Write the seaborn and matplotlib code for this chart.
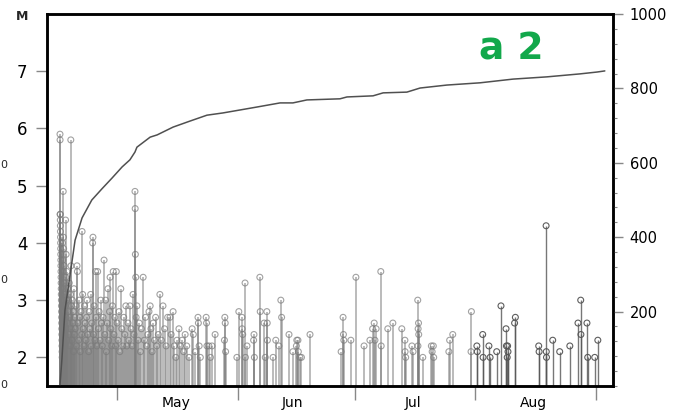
import numpy as np
import pandas as pd
import matplotlib
matplotlib.use("Agg")
import matplotlib.pyplot as plt
import matplotlib.dates as mdates
from matplotlib.ticker import MultipleLocator, FixedLocator, FixedFormatter, NullFormatter
import seaborn as sns

START = pd.Timestamp("2016-04-01")

# aftershocks: days after Apr 1 and magnitude
apr_day = [15.22, 15.24, 15.26, 15.28, 15.30, 15.32, 15.34, 15.36, 15.38, 15.40,
           15.42, 15.44, 15.46, 15.48, 15.50, 15.52, 15.54, 15.56, 15.58, 15.60,
           15.62, 15.64, 15.66, 15.68, 15.70, 15.72, 15.74, 15.76, 15.78,
           15.85, 15.9, 15.95, 16.0, 16.05, 16.1, 16.15, 16.2, 16.25, 16.3, 16.35,
           16.4, 16.45, 16.5, 16.55, 16.6, 16.65, 16.7, 16.75, 16.8, 16.85, 16.9,
           16.95, 17.0,
           17.1, 17.2, 17.3, 17.4, 17.5, 17.6, 17.7, 17.8, 17.9, 18.0, 18.05, 18.1,
           18.2, 18.3, 18.4, 18.5, 18.6, 18.7, 18.8, 18.9, 19.0,
           19.15, 19.3, 19.45, 19.6, 19.7, 19.8, 20.0, 20.15, 20.3, 20.45, 20.6,
           20.8, 20.9, 21.05, 21.2, 21.4, 21.55, 21.7, 21.9, 22.05, 22.2, 22.4,
           22.6, 22.75, 22.9, 23.1, 23.25,
           23.4, 23.6, 23.7, 23.85, 24.0, 24.2, 24.35, 24.5, 24.7, 24.9, 25.1,
           25.3, 25.5, 25.7, 25.9, 26.1, 26.3, 26.55, 26.75, 26.95, 27.15, 27.35,
           27.55, 27.75, 27.95, 28.1, 28.3, 28.5, 28.7, 28.9, 29.1, 29.3, 29.5,
           29.7, 29.9]
apr_mag = [5.9, 5.8, 4.5, 4.5, 4.4, 4.3, 4.2, 4.1, 4.0, 3.9,
           3.8, 3.7, 3.6, 3.5, 3.4, 3.3, 3.2, 3.1, 3.0, 2.9,
           2.8, 2.7, 2.6, 2.5, 2.4, 2.3, 2.2, 2.1, 2.0,
           4.0, 3.7, 3.5, 3.2, 4.9, 4.1, 3.9, 3.0, 2.8, 3.6, 2.6,
           3.3, 2.4, 3.1, 2.2, 2.9, 4.4, 3.4, 2.7, 3.8, 2.5, 3.0,
           2.3, 3.5,
           2.6, 3.2, 2.8, 3.0, 2.4, 3.3, 2.7, 2.2, 3.1, 5.8, 3.6, 2.5,
           2.9, 2.3, 3.0, 2.6, 2.8, 2.1, 3.2, 2.4, 2.7,
           2.5, 2.9, 2.2, 3.6, 3.5, 2.6, 2.3, 3.0, 2.7, 2.1, 2.8,
           2.4, 4.2, 3.1, 2.5, 2.2, 2.9, 2.6, 2.3, 2.7, 3.0, 2.4,
           2.1, 2.8, 2.5, 3.1, 2.2,
           2.6, 4.0, 4.1, 2.4, 2.9, 2.3, 3.5, 2.7, 2.2, 3.5, 2.5,
           2.8, 2.3, 3.0, 2.6, 2.2, 2.7, 3.7, 2.4, 3.0, 2.1, 2.6,
           3.2, 2.3, 2.8, 3.4, 2.5, 2.2, 2.9, 3.5, 2.4, 2.7, 2.2,
           3.5, 2.6]

may_day = [30.15, 30.4, 30.6, 30.85, 31.1, 31.35, 31.6, 31.9, 32.15, 32.4,
           32.7, 32.95, 33.2, 33.5, 33.8, 34.0, 34.25, 34.5, 34.55, 34.6,
           34.7, 34.8, 35.0, 35.3, 35.6, 35.9, 36.15, 36.6, 36.9, 37.2,
           37.5, 37.8, 38.1, 38.4, 38.6, 38.9, 39.2, 39.5, 39.8, 40.1,
           40.5, 40.9, 41.3, 41.7, 42.1, 42.5,
           42.9, 43.5, 43.8, 44.3, 44.6, 45.0, 45.3, 45.8, 46.2, 46.6,
           47.0, 47.4, 47.8, 48.4, 49.2, 49.5, 50.0, 50.7, 50.8, 51.0,
           51.3, 52.8, 52.9, 53.0, 53.5, 53.9, 54.3, 55.1, 57.5, 57.6,
           57.7, 57.8, 60.7]
may_mag = [2.3, 2.8, 2.1, 3.2, 2.5, 2.2, 2.7, 2.4, 2.9, 2.2,
           2.6, 2.3, 2.9, 2.5, 2.2, 3.1, 2.4, 4.9, 4.6, 3.8,
           3.4, 2.7, 2.9, 2.3, 2.6, 2.1, 2.5, 3.4, 2.3, 2.7,
           2.2, 2.4, 2.8, 2.9, 2.5, 2.1, 2.6, 2.3, 2.7, 2.2,
           2.4, 3.1, 2.3, 2.9, 2.5, 2.2,
           2.7, 2.7, 2.4, 2.8, 2.2, 2.0, 2.3, 2.5, 2.2, 2.3,
           2.1, 2.4, 2.2, 2.0, 2.5, 2.4, 2.1, 2.7, 2.6, 2.2,
           2.0, 2.7, 2.6, 2.2, 2.2, 2.0, 2.2, 2.4, 2.3, 2.7,
           2.6, 2.1, 2.0]

jun_day = [61.2, 62.0, 62.05, 62.2, 62.8, 62.9, 63.3, 65.0, 65.1, 65.2,
           66.6, 66.7, 67.7, 68.0, 68.4, 68.5, 68.55, 70.0, 70.7, 71.5,
           72.0, 72.2, 74.1, 75.1, 76.0, 76.1, 76.4, 76.5, 76.9, 77.3,
           79.5, 87.5, 88.0, 88.1, 88.2, 90.0]
jun_mag = [2.8, 2.7, 2.5, 2.4, 3.3, 2.0, 2.2, 2.3, 2.4, 2.0,
           3.4, 2.8, 2.6, 2.0, 2.8, 2.6, 2.3, 2.0, 2.3, 2.2,
           3.0, 2.7, 2.4, 2.1, 2.2, 2.3, 2.3, 2.1, 2.0, 2.0,
           2.4, 2.1, 2.7, 2.4, 2.3, 2.3]

jul_day = [91.3, 93.4, 94.9, 95.6, 96.0, 96.2, 96.5, 97.7, 97.8, 99.5,
           100.8, 103.1, 103.9, 103.95, 104.1, 105.7, 106.0, 107.2, 107.25, 107.3,
           107.4, 107.45, 108.5, 110.7, 110.9, 111.2, 111.3, 115.2, 115.4, 116.2,
           120.9, 121.0]
jul_mag = [3.4, 2.2, 2.3, 2.5, 2.6, 2.3, 2.5, 3.5, 2.2, 2.5,
           2.6, 2.5, 2.3, 2.1, 2.0, 2.2, 2.1, 3.0, 2.2, 2.5,
           2.6, 2.4, 2.0, 2.2, 2.1, 2.2, 2.0, 2.1, 2.3, 2.4,
           2.1, 2.8]

aug_day = [122.4, 122.5, 123.9, 124.0, 125.5, 125.8, 127.5, 128.6, 129.9, 130.0,
           130.2, 130.3, 130.4, 132.1, 132.3, 138.3, 138.4, 140.2, 140.25, 140.3,
           141.9, 143.7, 146.3, 148.4, 149.1, 149.15, 150.7, 150.9, 152.7, 153.5]
aug_mag = [2.2, 2.1, 2.4, 2.0, 2.2, 2.0, 2.1, 2.9, 2.5, 2.2,
           2.0, 2.2, 2.1, 2.6, 2.7, 2.2, 2.1, 4.3, 2.1, 2.0,
           2.3, 2.1, 2.2, 2.6, 3.0, 2.4, 2.6, 2.0, 2.0, 2.3]

# cumulative number of events (right axis)
cum_day = [15.2, 15.7, 16.5, 17.8, 19.1, 20.9, 23.4, 26.0, 28.6, 31.2,
           33.2, 34.5, 35.0, 38.4, 40.2, 44.3, 48.6, 53.0, 57.1, 61.5,
           65.9, 71.8, 75.1, 78.7, 87.2, 89.0, 95.7, 98.3, 104.4, 107.8,
           114.7, 123.2, 131.7, 140.4, 148.9, 153.3, 155.3]
cum_count = [0, 70, 204, 298, 392, 452, 500, 530, 559, 589,
             608, 629, 642, 669, 675, 696, 712, 728, 734, 742,
             750, 761, 761, 769, 772, 777, 780, 788, 790, 801,
             809, 815, 825, 831, 839, 844, 847]

month_labels = ["May", "Jun", "Jul", "Aug"]
month_starts = ["2016-05-01", "2016-06-01", "2016-07-01", "2016-08-01", "2016-09-01"]
month_mids = ["2016-05-16", "2016-06-15", "2016-07-16", "2016-08-16"]


def to_dates(days):
    return START + pd.to_timedelta(np.asarray(days, dtype=float), unit="D")


parts = []
for name, d, m in [("Apr", apr_day, apr_mag), ("May", may_day, may_mag),
                   ("Jun", jun_day, jun_mag), ("Jul", jul_day, jul_mag),
                   ("Aug", aug_day, aug_mag)]:
    parts.append(pd.DataFrame({"day": d, "mag": m, "month": name}))
quakes = pd.concat(parts, ignore_index=True)
quakes["date"] = to_dates(quakes["day"])

sns.set_theme(style="white")
plt.rcParams["font.family"] = ["DejaVu Sans"]

fig = plt.figure(figsize=(6.87, 4.17), dpi=100)
ax = fig.add_axes([47 / 687, 1 - 386 / 417, 566 / 687, 372 / 417])

# (color, alpha, stem width) for the light earlier events and darker August ones
styles = {"early": ("#7a7a7a", 0.55, 1.3), "late": ("#555555", 0.8, 1.0)}
for group, g in quakes.groupby(quakes["month"] == "Aug"):
    color, alpha, lw = styles["late"] if group else styles["early"]
    ax.vlines(g["date"], 1.5, g["mag"], color=color, lw=lw, alpha=alpha)
    sns.scatterplot(data=g, x="date", y="mag", ax=ax, s=18, facecolor="none",
                    edgecolor=color, linewidth=0.8, alpha=min(1, alpha + 0.15),
                    legend=False)

ax.set_xlim(START + pd.Timedelta(days=11.88), START + pd.Timedelta(days=157.4))
ax.set_ylim(1.5, 8)
ax.set_yticks(range(2, 8))
ax.set_xlabel("")
ax.set_ylabel("")

ax.xaxis.set_major_locator(FixedLocator(mdates.date2num(pd.to_datetime(month_starts))))
ax.xaxis.set_major_formatter(NullFormatter())
ax.xaxis.set_minor_locator(FixedLocator(mdates.date2num(pd.to_datetime(month_mids))))
ax.xaxis.set_minor_formatter(FixedFormatter(month_labels))
ax.tick_params(axis="x", which="major", bottom=True, length=10, width=1, color="#888888")
ax.tick_params(axis="x", which="minor", bottom=True, length=0, pad=7, labelsize=10,
               labelcolor="black")
ax.tick_params(axis="y", left=True, length=8, width=1, color="#888888",
               labelsize=12, pad=6, labelcolor="black")

ax2 = ax.twinx()
sns.lineplot(x=to_dates(cum_day), y=cum_count, ax=ax2, color="#505050", lw=1.1,
             estimator=None, sort=False)
ax2.set_ylim(0, 1000)
ax2.set_yticks([200, 400, 600, 800, 1000])
ax2.yaxis.set_minor_locator(MultipleLocator(40))
ax2.tick_params(axis="y", which="major", right=True, length=7, width=1,
                color="#888888", labelsize=10.5, pad=5, labelcolor="black")
ax2.tick_params(axis="y", which="minor", right=True, length=3, width=0.8,
                color="#888888")
ax2.set_ylabel("")

for a in (ax, ax2):
    for s in a.spines.values():
        s.set_color("black")
        s.set_linewidth(1.8)

fig.text(22 / 687, 1 - 16 / 417, "M", ha="center", va="center",
         fontsize=9, fontweight="bold")
fig.text(511 / 687, 1 - 50 / 417, "a 2", ha="center", va="center",
         fontsize=27, fontweight="bold", color="#12a84b")
# partial labels of the neighbouring panel at the left edge
for y in [165, 280, 385]:
    fig.text(0.5 / 687, 1 - y / 417, "0", ha="left", va="center", fontsize=8)

fig.savefig("out.png", dpi=100)
